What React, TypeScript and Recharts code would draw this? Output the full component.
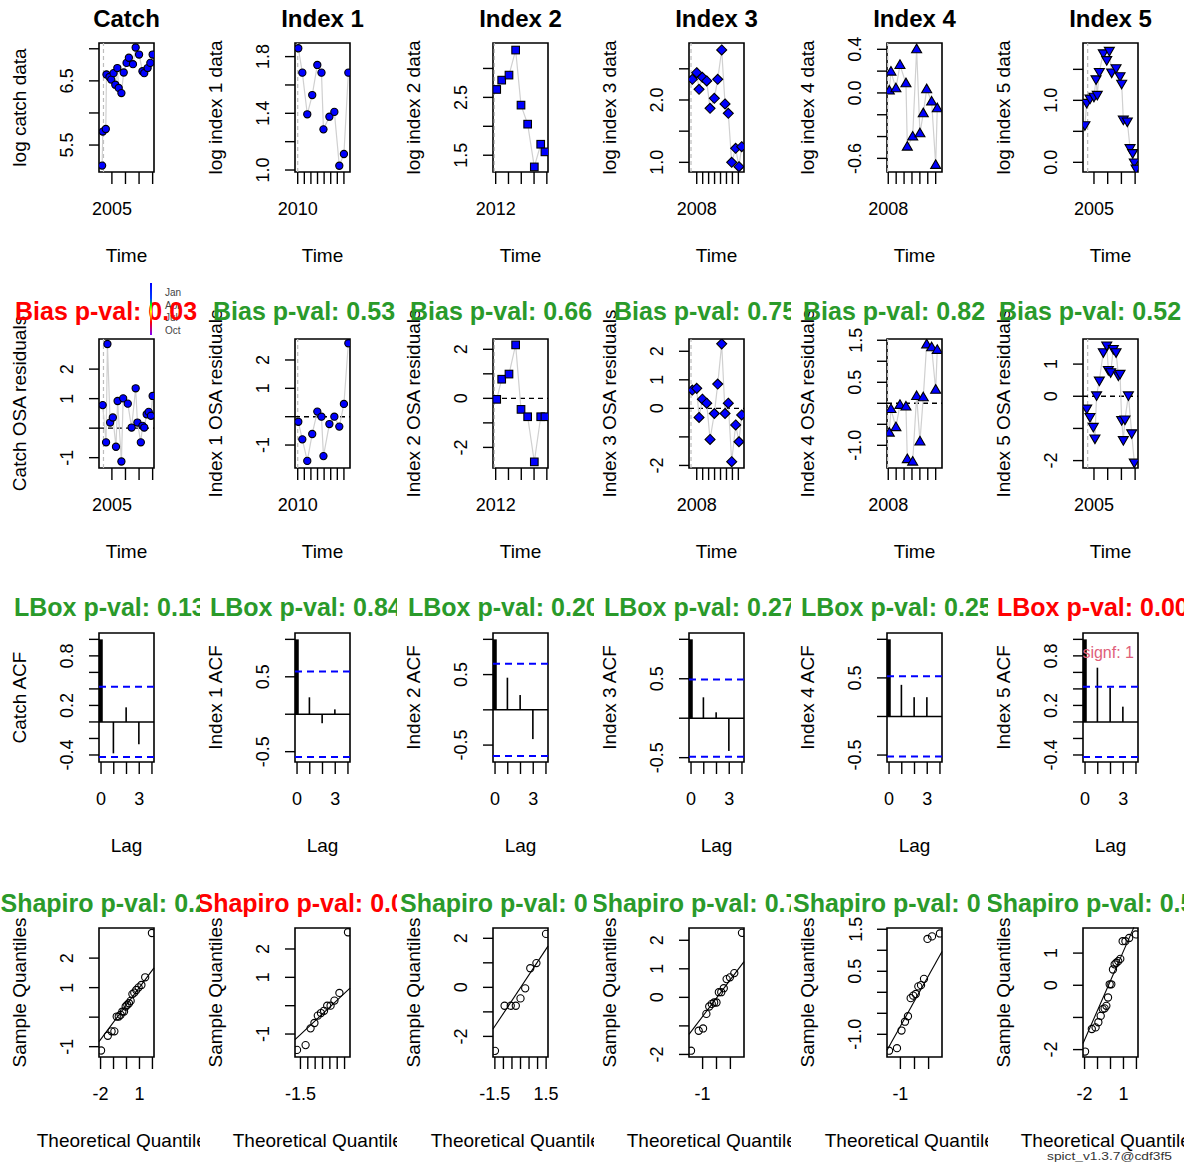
import React from 'react';
import { ScatterChart, Scatter, ComposedChart, Bar, XAxis, YAxis, ReferenceLine, ReferenceArea } from 'recharts';

// ---------------- data ----------------
const panelNames = ['Catch', 'Index 1', 'Index 2', 'Index 3', 'Index 4', 'Index 5'];
const dataYLabels = ['log catch data', 'log index 1 data', 'log index 2 data', 'log index 3 data', 'log index 4 data', 'log index 5 data'];
const residYLabels = ['Catch OSA residuals', 'Index 1 OSA residuals', 'Index 2 OSA residuals', 'Index 3 OSA residuals', 'Index 4 OSA residuals', 'Index 5 OSA residuals'];
const acfYLabels = ['Catch ACF', 'Index 1 ACF', 'Index 2 ACF', 'Index 3 ACF', 'Index 4 ACF', 'Index 5 ACF'];
const biasTitles = ['Bias p-val: 0.03', 'Bias p-val: 0.53', 'Bias p-val: 0.66', 'Bias p-val: 0.75', 'Bias p-val: 0.82', 'Bias p-val: 0.52'];
const biasSignif = [true, false, false, false, false, false];
const lboxTitles = ['LBox p-val: 0.13', 'LBox p-val: 0.84', 'LBox p-val: 0.20', 'LBox p-val: 0.27', 'LBox p-val: 0.25', 'LBox p-val: 0.00'];
const lboxSignif = [false, false, false, false, false, true];
const shapiroTitles = ['Shapiro p-val: 0.2', 'Shapiro p-val: 0.0', 'Shapiro p-val: 0', 'Shapiro p-val: 0.7', 'Shapiro p-val: 0', 'Shapiro p-val: 0.5'];
const shapiroSignif = [false, true, false, false, false, false];
const seasonLabels = ['Jan', 'Apr', 'Jul', 'Oct'];
const signfText = 'lag.signf: 1';
const stampText = 'spict_v1.3.7@cdf3f5';

// observations (row 1)
const catchTime = [2004.28, 2004.33, 2004.55, 2004.6, 2004.82, 2004.95, 2005.12, 2005.25, 2005.4, 2005.5, 2005.7, 2005.87, 2006.08, 2006.25, 2006.55, 2006.75, 2007.0, 2007.25, 2007.38, 2007.63, 2007.83, 2008.0];
const catchLog = [5.18, 5.71, 5.75, 6.6, 6.56, 6.52, 6.62, 6.44, 6.7, 6.39, 6.31, 6.63, 6.78, 6.86, 6.76, 7.02, 6.91, 6.65, 6.62, 6.7, 6.78, 6.91];
const index1Time = [2010.09, 2010.7, 2011.45, 2012.2, 2012.97, 2013.6, 2013.9, 2014.8, 2015.55, 2016.3, 2017.0, 2017.67];
const index1Log = [1.859, 1.687, 1.393, 1.529, 1.741, 1.687, 1.287, 1.376, 1.41, 1.03, 1.113, 1.687];
const index2Time = [2012.08, 2012.47, 2013.04, 2013.56, 2013.98, 2014.5, 2015.02, 2015.52, 2015.85];
const index2Log = [2.637, 2.798, 2.885, 3.318, 2.366, 2.037, 1.298, 1.69, 1.558];
const index3Time = [2007.26, 2008.0, 2008.39, 2008.95, 2009.68, 2010.24, 2010.96, 2011.53, 2012.2, 2012.76, 2013.31, 2013.88, 2014.55, 2015.1, 2015.56];
const index3Log = [2.332, 2.438, 2.171, 2.364, 2.305, 1.866, 2.027, 2.332, 2.802, 1.936, 1.786, 1.0, 1.225, 0.93, 1.251];
const index4Time = [2008.13, 2008.34, 2008.97, 2009.48, 2010.24, 2010.41, 2011.09, 2011.59, 2012.01, 2012.43, 2012.86, 2013.49, 2014.0, 2014.2];
const index4Log = [0.021, 0.195, 0.042, 0.256, 0.088, -0.493, -0.401, 0.4, -0.371, -0.187, 0.033, -0.08, -0.661, -0.141];
const index5Time = [2004.34, 2004.47, 2004.71, 2005.0, 2005.15, 2005.24, 2005.39, 2005.68, 2005.93, 2006.12, 2006.29, 2006.61, 2006.9, 2007.02, 2007.14, 2007.43, 2007.63, 2007.82, 2007.94, 2008.07];
const index5Log = [0.6, 0.96, 1.03, 1.06, 1.34, 1.09, 1.46, 1.76, 1.65, 1.8, 1.45, 1.52, 1.39, 1.27, 0.69, 0.66, 0.23, 0.15, 0.0, -0.1];

// OSA residuals (row 2)
const catchResTime = [2004.32, 2004.57, 2004.67, 2004.87, 2005.07, 2005.3, 2005.42, 2005.7, 2005.83, 2006.17, 2006.45, 2006.75, 2006.88, 2007.13, 2007.25, 2007.38, 2007.56, 2007.71, 2007.88, 2008.0];
const catchRes = [0.78, -0.48, 2.85, 0.19, 0.36, -0.63, 0.92, -1.13, 1.01, 0.83, 0.02, 1.35, 0.19, -0.48, 0.08, 0.02, 0.47, 0.55, 0.42, 1.09];
const index1Res = [-0.18, -0.8, -1.56, -0.61, 0.18, 0.0, -1.39, -0.26, 0.0, -0.35, 0.45, 2.59];
const index2Res = [-0.04, 0.78, 0.99, 2.18, -0.45, -0.75, -2.59, -0.75, -0.75];
const index3Res = [0.64, 0.7, -0.32, 0.32, 0.18, -1.09, -0.18, 0.85, 2.26, -0.18, 0.18, -1.87, -0.58, -1.17, -0.23];
const index4Res = [-0.7, -0.14, -0.57, -0.04, -0.08, -1.33, -1.39, 0.17, -0.91, 0.14, 1.4, 1.33, 0.32, 1.27];
const index5ResTime = [2004.47, 2004.71, 2004.95, 2005.07, 2005.19, 2005.39, 2005.68, 2005.93, 2006.05, 2006.22, 2006.41, 2006.61, 2006.78, 2006.9, 2007.02, 2007.14, 2007.26, 2007.51, 2007.75, 2007.94];
const index5Res = [-0.38, -0.64, -0.95, -1.31, 0.03, 0.49, 1.37, 1.58, 0.82, 0.75, 1.47, 1.37, 0.65, 0.7, -0.74, -1.36, -0.72, 0.03, -1.15, -2.06];

// ACF (row 3)
const acfLags = [0, 1, 2, 3];
const catchAcf = [1, -0.38, 0.177, -0.27];
const index1Acf = [1, 0.226, -0.12, 0.065];
const index2Acf = [1, 0.456, 0.21, -0.415];
const index3Acf = [1, 0.265, 0.075, -0.415];
const index4Acf = [1, 0.41, 0.25, 0.25];
const index5Acf = [1, 0.657, 0.415, 0.185];
const acfCI = [0.425, 0.57, 0.655, 0.49, 0.52, 0.425];

// QQ (row 4)
const catchTheo = [-1.96, -1.44, -1.15, -0.935, -0.755, -0.598, -0.454, -0.319, -0.189, -0.063, 0.063, 0.189, 0.319, 0.454, 0.598, 0.755, 0.935, 1.15, 1.44, 1.96];
const catchSample = [-1.13, -0.63, -0.48, -0.48, 0.02, 0.02, 0.08, 0.19, 0.19, 0.36, 0.42, 0.47, 0.55, 0.78, 0.83, 0.92, 1.01, 1.09, 1.35, 2.85];
const index1Theo = [-1.732, -1.15, -0.812, -0.549, -0.319, -0.105, 0.105, 0.319, 0.549, 0.812, 1.15, 1.732];
const index1Sample = [-1.56, -1.39, -0.8, -0.61, -0.35, -0.26, -0.18, 0.0, 0.0, 0.18, 0.45, 2.59];
const index2Theo = [-1.494, -0.932, -0.572, -0.275, 0, 0.275, 0.572, 0.932, 1.494];
const index2Sample = [-2.59, -0.75, -0.75, -0.75, -0.45, -0.04, 0.78, 0.99, 2.18];
const index3Theo = [-1.834, -1.282, -0.967, -0.728, -0.524, -0.341, -0.168, 0, 0.168, 0.341, 0.524, 0.728, 0.967, 1.282, 1.834];
const index3Sample = [-1.87, -1.17, -1.09, -0.58, -0.32, -0.23, -0.18, -0.18, 0.18, 0.18, 0.32, 0.64, 0.7, 0.85, 2.26];
const index4Theo = [-1.803, -1.242, -0.921, -0.674, -0.464, -0.272, -0.09, 0.09, 0.272, 0.464, 0.674, 0.921, 1.242, 1.803];
const index4Sample = [-1.39, -1.33, -0.91, -0.7, -0.57, -0.14, -0.08, -0.04, 0.14, 0.17, 0.32, 1.27, 1.33, 1.4];
const index5Theo = [-1.96, -1.44, -1.15, -0.935, -0.755, -0.598, -0.454, -0.319, -0.189, -0.063, 0.063, 0.189, 0.319, 0.454, 0.598, 0.755, 0.935, 1.15, 1.44, 1.96];
const index5Sample = [-2.06, -1.36, -1.31, -1.15, -0.95, -0.74, -0.72, -0.64, -0.38, 0.03, 0.03, 0.49, 0.65, 0.7, 0.75, 0.82, 1.37, 1.37, 1.47, 1.58];
const qqLines = [
  [{ x: -2.12, y: -0.83 }, { x: 2.12, y: 1.67 }],
  [{ x: -1.87, y: -1.2 }, { x: 1.87, y: 0.62 }],
  [{ x: -1.61, y: -1.7 }, { x: 1.61, y: 1.68 }],
  [{ x: -1.98, y: -1.3 }, { x: 1.98, y: 1.25 }],
  [{ x: -1.95, y: -1.38 }, { x: 1.95, y: 0.97 }],
  [{ x: -2.12, y: -1.81 }, { x: 1.8, y: 1.8 }],
];

// axis domains / ticks
const timeDomains: [number, number][] = [[2004.05, 2008.1], [2009.59, 2017.92], [2011.79, 2016.09], [2006.7, 2015.95], [2007.84, 2014.8], [2004.2, 2008.21]];
const timeTicks = [[2005, 2006, 2007, 2008], [2010, 2011, 2012, 2013, 2014, 2015, 2016, 2017], [2012, 2013, 2014, 2015, 2016], [2008, 2009, 2010, 2011, 2012, 2013, 2014, 2015], [2008, 2009, 2010, 2011, 2012, 2013, 2014], [2005, 2006, 2007, 2008]];
const firstYearLabel = ['2005', '2010', '2012', '2008', '2008', '2005'];
const obsStartLine = [2004.38, 2010.0, 2011.89, 2007.04, 2007.92, 2004.54];
const logDomains: [number, number][] = [[5.08, 7.09], [0.986, 1.896], [1.21, 3.44], [0.845, 2.914], [-0.725, 0.458], [-0.156, 1.925]];
const logTicks = [[5.5, 6.0, 6.5, 7.0], [1.0, 1.2, 1.4, 1.6, 1.8], [1.5, 2.0, 2.5, 3.0], [1.0, 1.5, 2.0, 2.5], [-0.6, -0.4, -0.2, 0, 0.2, 0.4], [0, 0.5, 1.0, 1.5]];
const logTickLabels = [['5.5', null, '6.5', null], ['1.0', null, '1.4', null, '1.8'], ['1.5', null, '2.5', null], ['1.0', null, '2.0', null], ['-0.6', null, null, '0.0', null, '0.4'], ['0.0', null, '1.0', null]];
const resDomains: [number, number][] = [[-1.35, 3.02], [-1.81, 2.74], [-2.84, 2.42], [-2.09, 2.43], [-1.54, 1.53], [-2.23, 1.78]];
const resTicks = [[-1, 0, 1, 2], [-1, 0, 1, 2], [-2, -1, 0, 1, 2], [-2, -1, 0, 1, 2], [-1, -0.5, 0, 0.5, 1, 1.5], [-2, -1, 0, 1]];
const resTickLabels = [['-1', null, '1', '2'], ['-1', null, '1', '2'], ['-2', null, '0', null, '2'], ['-2', null, '0', '1', '2'], ['-1.0', null, null, '0.5', null, '1.5'], ['-2', null, '0', '1']];
const acfDomains: [number, number][] = [[-0.485, 1.077], [-0.638, 1.085], [-0.74, 1.09], [-0.555, 1.08], [-0.59, 1.082], [-0.485, 1.077]];
const acfTicksA = [-0.4, -0.2, 0, 0.2, 0.4, 0.6, 0.8, 1.0];
const acfLabelsA = ['-0.4', null, null, '0.2', null, null, '0.8', null];
const acfTicksB = [-0.5, 0, 0.5, 1.0];
const acfLabelsB = ['-0.5', null, '0.5', null];
const lagDomain: [number, number] = [-0.16, 4.16];
const lagTicks = [0, 1, 2, 3, 4];
const lagLabels = ['0', null, null, '3', null];
const qqDomains: [number, number][] = [[-2.12, 2.12], [-1.87, 1.87], [-1.61, 1.61], [-1.98, 1.98], [-1.95, 1.95], [-2.12, 2.12]];
const qqTicks = [[-2, -1, 0, 1, 2], [-1.5, -1, -0.5, 0, 0.5, 1, 1.5], [-1.5, -1, -0.5, 0, 0.5, 1, 1.5], [-1, 0, 1], [-1, 0, 1], [-2, -1, 0, 1, 2]];
const qqTickLabels = [['-2', null, null, '1', null], ['-1.5', null, null, null, null, null, null], ['-1.5', null, null, null, null, null, '1.5'], ['-1', null, null], ['-1', null, null], ['-2', null, null, '1', null]];

// ---------------- layout / style ----------------
const FONT = '"Liberation Sans", Arial, Helvetica, sans-serif';
const BOX_LEFT = [99, 295, 493, 689, 887, 1083];
const BOX_TOP = [43, 339, 633, 928];
const BOX_W = 55;
const BOX_H = 129;
const CLIP_X = [0, 200, 397, 594, 791, 988, 1184];
const ROW_H = 296;
const PAD_L = 62;
const PAD_T = 12;
const PAD_R = 12;
const PAD_B = 52;
const CW = PAD_L + BOX_W + PAD_R;
const CH = PAD_T + BOX_H + PAD_B;
const TITLE_DY = [-16.5, -19, -17, -16.5];
const TITLE_SIZE = [24, 25, 25, 25];
const TITLE_X = [
  null,
  [15, 213, 410, 614, 803, 999],
  [14, 210, 408, 604, 801, 997],
  [0.5, 196.5, 400, 591, 793, 986],
];
const GREEN = '#2a9a2a';
const RED = '#ff0000';
const MARKERS = ['circle', 'circle', 'square', 'diamond', 'up', 'down'];

const zip2 = (a: number[], b: number[], ka: string, kb: string) => a.map((v, i) => ({ [ka]: v, [kb]: b[i] }));

const obsSets = [
  zip2(catchTime, catchLog, 't', 'v'),
  zip2(index1Time, index1Log, 't', 'v'),
  zip2(index2Time, index2Log, 't', 'v'),
  zip2(index3Time, index3Log, 't', 'v'),
  zip2(index4Time, index4Log, 't', 'v'),
  zip2(index5Time, index5Log, 't', 'v'),
];
const resSets = [
  zip2(catchResTime, catchRes, 't', 'v'),
  zip2(index1Time, index1Res, 't', 'v'),
  zip2(index2Time, index2Res, 't', 'v'),
  zip2(index3Time, index3Res, 't', 'v'),
  zip2(index4Time, index4Res, 't', 'v'),
  zip2(index5ResTime, index5Res, 't', 'v'),
];
const acfSets = [catchAcf, index1Acf, index2Acf, index3Acf, index4Acf, index5Acf].map((r) => zip2(acfLags, r, 'lag', 'r'));
const qqSets = [
  zip2(catchTheo, catchSample, 'q', 's'),
  zip2(index1Theo, index1Sample, 'q', 's'),
  zip2(index2Theo, index2Sample, 'q', 's'),
  zip2(index3Theo, index3Sample, 'q', 's'),
  zip2(index4Theo, index4Sample, 'q', 's'),
  zip2(index5Theo, index5Sample, 'q', 's'),
];

const findLabel = (ticks: number[], labels: (string | null)[], v: number) => {
  const i = ticks.findIndex((t) => Math.abs(t - v) < 1e-6);
  return i >= 0 ? labels[i] : null;
};

const yTick = (ticks: number[], labels: (string | null)[]) => (p: any) => {
  const lab = findLabel(ticks, labels, Number(p.payload?.value));
  if (!lab) return <g />;
  const bx = p.x - 15.5;
  return (
    <text x={bx} y={p.y} transform={`rotate(-90 ${bx} ${p.y})`} textAnchor="middle" fontFamily={FONT} fontSize={18} fill="#000">
      {lab}
    </text>
  );
};

const xTick = (ticks: number[], labels: (string | null)[]) => (p: any) => {
  const lab = findLabel(ticks, labels, Number(p.payload?.value));
  if (!lab) return <g />;
  return (
    <text x={p.x} y={p.y + 30.5} textAnchor="middle" fontFamily={FONT} fontSize={18} fill="#000">
      {lab}
    </text>
  );
};

const tickLineStyle = { stroke: '#000', strokeWidth: 1.4 };

function Marker({ kind, cx, cy }: { kind: string; cx: number; cy: number }) {
  const s = { fill: '#0000ff', stroke: '#000', strokeWidth: 1.1 };
  if (kind === 'square') return <rect x={cx - 3.8} y={cy - 3.8} width={7.6} height={7.6} {...s} />;
  if (kind === 'diamond') return <polygon points={`${cx},${cy - 5} ${cx + 5},${cy} ${cx},${cy + 5} ${cx - 5},${cy}`} {...s} />;
  if (kind === 'up') return <polygon points={`${cx},${cy - 5.2} ${cx + 5},${cy + 3.4} ${cx - 5},${cy + 3.4}`} {...s} />;
  if (kind === 'down') return <polygon points={`${cx},${cy + 5.2} ${cx + 5},${cy - 3.4} ${cx - 5},${cy - 3.4}`} {...s} />;
  return <circle cx={cx} cy={cy} r={3.6} {...s} />;
}

const posStyle = (r: number, c: number): React.CSSProperties => ({
  position: 'absolute',
  left: BOX_LEFT[c] - PAD_L,
  top: BOX_TOP[r] - PAD_T,
  width: CW,
  height: CH,
});

const margin = { top: PAD_T, right: PAD_R, bottom: 0, left: 0 };

function SeriesPanel({ r, c, rows, yd, yt, yl, zeroLine }: any) {
  const xd = timeDomains[c];
  const xt = timeTicks[c];
  const xl = xt.map((_: number, i: number) => (i === 0 ? firstYearLabel[c] : null));
  return (
    <div style={posStyle(r, c)}>
      <ScatterChart width={CW} height={CH} margin={margin}>
        <XAxis type="number" dataKey="t" domain={xd} ticks={xt} interval={0} allowDataOverflow tickSize={12} tickMargin={0} height={PAD_B} axisLine={false} tickLine={tickLineStyle} tick={xTick(xt, xl)} />
        <YAxis type="number" dataKey="v" domain={yd} ticks={yt} interval={0} allowDataOverflow tickSize={10} tickMargin={0} width={PAD_L} axisLine={false} tickLine={tickLineStyle} tick={yTick(yt, yl)} />
        <ReferenceLine x={obsStartLine[c]} stroke="#bdbdbd" strokeWidth={1.2} strokeDasharray="4 3" ifOverflow="visible" />
        {zeroLine ? <ReferenceLine y={0} stroke="#000" strokeWidth={1.4} strokeDasharray="5 4" ifOverflow="visible" /> : null}
        <Scatter data={rows} isAnimationActive={false} line={{ stroke: '#d0d0d0', strokeWidth: 1.2 }} lineType="joint" shape={(p: any) => <Marker kind={MARKERS[c]} cx={p.cx} cy={p.cy} />} />
        <ReferenceArea x1={xd[0]} x2={xd[1]} y1={yd[0]} y2={yd[1]} fill="none" fillOpacity={0} stroke="#000" strokeWidth={1.6} ifOverflow="visible" />
      </ScatterChart>
    </div>
  );
}

function AcfPanel({ c }: any) {
  const r = 2;
  const yd = acfDomains[c];
  const useA = c === 0 || c === 5;
  const yt = useA ? acfTicksA : acfTicksB;
  const yl = useA ? acfLabelsA : acfLabelsB;
  const ci = acfCI[c];
  return (
    <div style={posStyle(r, c)}>
      <ComposedChart width={CW} height={CH} margin={margin} data={acfSets[c]}>
        <XAxis type="number" dataKey="lag" domain={lagDomain} ticks={lagTicks} interval={0} allowDataOverflow tickSize={12} tickMargin={0} height={PAD_B} axisLine={false} tickLine={tickLineStyle} tick={xTick(lagTicks, lagLabels)} />
        <YAxis type="number" domain={yd} ticks={yt} interval={0} allowDataOverflow tickSize={10} tickMargin={0} width={PAD_L} axisLine={false} tickLine={tickLineStyle} tick={yTick(yt, yl)} />
        <ReferenceLine y={0} stroke="#000" strokeWidth={1.5} ifOverflow="visible" />
        <ReferenceLine y={ci} stroke="#0000ff" strokeWidth={2} strokeDasharray="7 5" ifOverflow="visible" />
        <ReferenceLine y={-ci} stroke="#0000ff" strokeWidth={2} strokeDasharray="7 5" ifOverflow="visible" />
        <Bar
          dataKey="r"
          barSize={4}
          isAnimationActive={false}
          shape={(p: any) => {
            const w = p.payload && p.payload.lag === 0 ? 4.2 : 1.6;
            const cx = p.x + p.width / 2;
            const y0 = Math.min(p.y, p.y + p.height);
            const h = Math.abs(p.height);
            return <rect x={cx - w / 2} y={y0} width={w} height={h} fill="#000" />;
          }}
        />
        <ReferenceArea x1={lagDomain[0]} x2={lagDomain[1]} y1={yd[0]} y2={yd[1]} fill="none" fillOpacity={0} stroke="#000" strokeWidth={1.6} ifOverflow="visible" />
      </ComposedChart>
    </div>
  );
}

function QQPanel({ c }: any) {
  const r = 3;
  const xd = qqDomains[c];
  const yd = resDomains[c];
  const xt = qqTicks[c];
  const yt = resTicks[c];
  return (
    <div style={posStyle(r, c)}>
      <ScatterChart width={CW} height={CH} margin={margin}>
        <XAxis type="number" dataKey="q" domain={xd} ticks={xt} interval={0} allowDataOverflow tickSize={12} tickMargin={0} height={PAD_B} axisLine={false} tickLine={tickLineStyle} tick={xTick(xt, qqTickLabels[c])} />
        <YAxis type="number" dataKey="s" domain={yd} ticks={yt} interval={0} allowDataOverflow tickSize={10} tickMargin={0} width={PAD_L} axisLine={false} tickLine={tickLineStyle} tick={yTick(yt, resTickLabels[c])} />
        <ReferenceLine segment={qqLines[c]} stroke="#000" strokeWidth={1.1} ifOverflow="visible" />
        <Scatter data={qqSets[c]} isAnimationActive={false} shape={(p: any) => <circle cx={p.cx} cy={p.cy} r={3.6} fill="none" stroke="#000" strokeWidth={1.1} />} />
        <ReferenceArea x1={xd[0]} x2={xd[1]} y1={yd[0]} y2={yd[1]} fill="none" fillOpacity={0} stroke="#000" strokeWidth={1.6} ifOverflow="visible" />
      </ScatterChart>
    </div>
  );
}

const rowYLabels = [dataYLabels, residYLabels, acfYLabels, panelNames.map(() => 'Sample Quantiles')];
const rowXLabels = ['Time', 'Time', 'Lag', 'Theoretical Quantiles'];
const rowTitles = [panelNames, biasTitles, lboxTitles, shapiroTitles];
const rowSignif = [null, biasSignif, lboxSignif, shapiroSignif];

function Overlay() {
  const cells: React.ReactNode[] = [];
  const clips: React.ReactNode[] = [];
  for (let r = 0; r < 4; r++) {
    for (let c = 0; c < 6; c++) {
      const id = `cell-${r}-${c}`;
      clips.push(
        <clipPath key={id} id={id}>
          <rect x={CLIP_X[c]} y={BOX_TOP[r] - 43} width={CLIP_X[c + 1] - CLIP_X[c]} height={ROW_H} />
        </clipPath>
      );
      const bx = BOX_LEFT[c];
      const by = BOX_TOP[r];
      const cxm = bx + BOX_W / 2;
      const ylx = bx - 73;
      const yly = by + BOX_H / 2;
      const tx = TITLE_X[r];
      const sig = rowSignif[r];
      const color = sig ? (sig[c] ? RED : GREEN) : '#000';
      cells.push(
        <g key={id} clipPath={`url(#${id})`}>
          <text x={ylx} y={yly} transform={`rotate(-90 ${ylx} ${yly})`} textAnchor="middle" fontFamily={FONT} fontSize={19} fill="#000">{rowYLabels[r][c]}</text>
          <text x={cxm} y={by + BOX_H + 90} textAnchor="middle" fontFamily={FONT} fontSize={19} fill="#000">{rowXLabels[r]}</text>
          <text x={tx ? tx[c] : cxm} y={by + TITLE_DY[r]} textAnchor={tx ? 'start' : 'middle'} fontFamily={FONT} fontWeight="bold" fontSize={TITLE_SIZE[r]} fill={color}>{rowTitles[r][c]}</text>
        </g>
      );
    }
  }
  return (
    <svg width={1194} height={1169} style={{ position: 'absolute', left: 0, top: 0, pointerEvents: 'none' }}>
      <defs>
        {clips}
        <clipPath id="acf5box"><rect x={BOX_LEFT[5]} y={BOX_TOP[2]} width={BOX_W} height={BOX_H} /></clipPath>
        <linearGradient id="seasonGrad" x1="0" y1="0" x2="0" y2="1">
          <stop offset="0" stopColor="#0000ff" />
          <stop offset="0.3" stopColor="#0040ff" />
          <stop offset="0.42" stopColor="#00ff00" />
          <stop offset="0.55" stopColor="#ffff00" />
          <stop offset="0.75" stopColor="#ff0000" />
          <stop offset="1" stopColor="#8000ff" />
        </linearGradient>
      </defs>
      {seasonLabels.map((s, i) => (
        <text key={s} x={165} y={296 + i * 12.7} fontFamily={FONT} fontSize={10} fill="#444">{s}</text>
      ))}
      {cells}
      <rect x={150} y={283} width={2} height={52} fill="url(#seasonGrad)" />
      <g clipPath="url(#acf5box)">
        <text x={1134} y={658} textAnchor="end" fontFamily={FONT} fontSize={16} fill="#e0607a">{signfText}</text>
      </g>
      <text x={1047} y={1160} fontFamily={FONT} fontSize={10.5} fill="#333" textLength={125} lengthAdjust="spacingAndGlyphs">{stampText}</text>
    </svg>
  );
}

export default function App() {
  return (
    <div style={{ position: 'absolute', left: 0, top: 0, width: 1194, height: 1169, background: '#fff', overflow: 'hidden' }}>
      {panelNames.map((_, c) => (
        <SeriesPanel key={`o${c}`} r={0} c={c} rows={obsSets[c]} yd={logDomains[c]} yt={logTicks[c]} yl={logTickLabels[c]} zeroLine={false} />
      ))}
      {panelNames.map((_, c) => (
        <SeriesPanel key={`r${c}`} r={1} c={c} rows={resSets[c]} yd={resDomains[c]} yt={resTicks[c]} yl={resTickLabels[c]} zeroLine />
      ))}
      {panelNames.map((_, c) => (
        <AcfPanel key={`a${c}`} c={c} />
      ))}
      {panelNames.map((_, c) => (
        <QQPanel key={`q${c}`} c={c} />
      ))}
      <Overlay />
    </div>
  );
}
